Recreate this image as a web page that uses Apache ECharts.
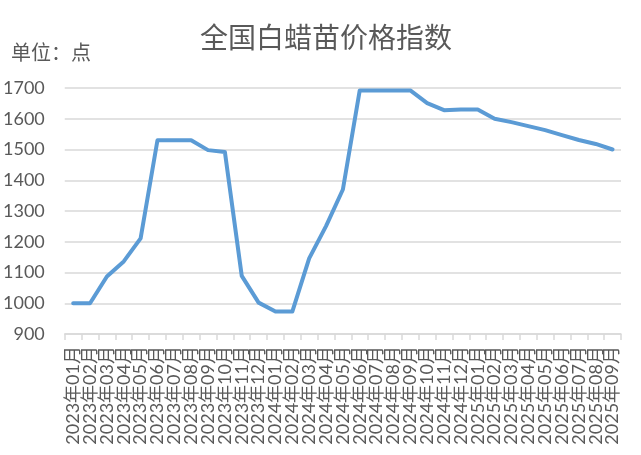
<!DOCTYPE html>
<html>
<head>
<meta charset="utf-8">
<script src="https://cdn.jsdelivr.net/npm/echarts@6/dist/echarts.min.js"></script>
<style>
html,body{margin:0;padding:0;background:#fff;}
#c{width:641px;height:455px;}
</style>
</head>
<body>
<div id="c"></div>
<script>
var categories = [
  '2023年01月','2023年02月','2023年03月','2023年04月','2023年05月','2023年06月',
  '2023年07月','2023年08月','2023年09月','2023年10月','2023年11月','2023年12月',
  '2024年01月','2024年02月','2024年03月','2024年04月','2024年05月','2024年06月',
  '2024年07月','2024年08月','2024年09月','2024年10月','2024年11月','2024年12月',
  '2025年01月','2025年02月','2025年03月','2025年04月','2025年05月','2025年06月',
  '2025年07月','2025年08月','2025年09月'
];
var priceIndex = [
  1000, 1000, 1087, 1136, 1211, 1530,
  1530, 1530, 1498, 1492, 1089, 1002,
  973, 973, 1146, 1251, 1370, 1692,
  1692, 1692, 1692, 1651, 1628, 1630,
  1630, 1600, 1589, 1576, 1563, 1547,
  1531, 1518, 1500
];
var yTicks = { min: 900, max: 1700, step: 100 };
var titleText = '全国白蜡苗价格指数';
var unitText = '单位：点';

var FONT = "Lato, 'Noto Sans CJK SC', sans-serif";
var chart = echarts.init(document.getElementById('c'), null, { renderer: 'canvas' });
chart.setOption({
  backgroundColor: '#ffffff',
  animation: false,
  title: {
    text: titleText,
    left: 321, top: 18, textAlign: 'center',
    textStyle: { fontSize: 28, fontWeight: 'normal', color: '#595959', fontFamily: "'Noto Sans CJK SC', sans-serif" }
  },
  graphic: [{
    type: 'text', left: 11, top: 42,
    style: { text: unitText, fill: '#595959', font: "20px 'Noto Sans CJK SC', sans-serif" }
  }],
  grid: { left: 63, right: 20, top: 88, bottom: 121, containLabel: false },
  xAxis: {
    type: 'category',
    data: categories,
    boundaryGap: true,
    axisLine: { show: true, lineStyle: { color: '#D9D9D9', width: 1.5 } },
    axisTick: { show: true, length: 6, lineStyle: { color: '#D9D9D9', width: 1.5 } },
    axisLabel: {
      interval: 0, rotate: 90, margin: 12,
      fontSize: 18, color: '#595959', fontFamily: FONT
    }
  },
  yAxis: {
    type: 'value',
    min: yTicks.min, max: yTicks.max, interval: yTicks.step,
    axisLine: { show: false },
    axisTick: { show: false },
    splitLine: { lineStyle: { color: '#D9D9D9', width: 1.5 } },
    axisLabel: {
      fontSize: 18, color: '#595959', margin: 20, fontFamily: FONT,
      formatter: function (v) { return String(v); }
    }
  },
  series: [{
    type: 'line',
    data: priceIndex,
    symbol: 'none',
    smooth: false,
    lineStyle: { color: '#5B9BD5', width: 4, join: 'round', cap: 'round' }
  }]
});
</script>
</body>
</html>
